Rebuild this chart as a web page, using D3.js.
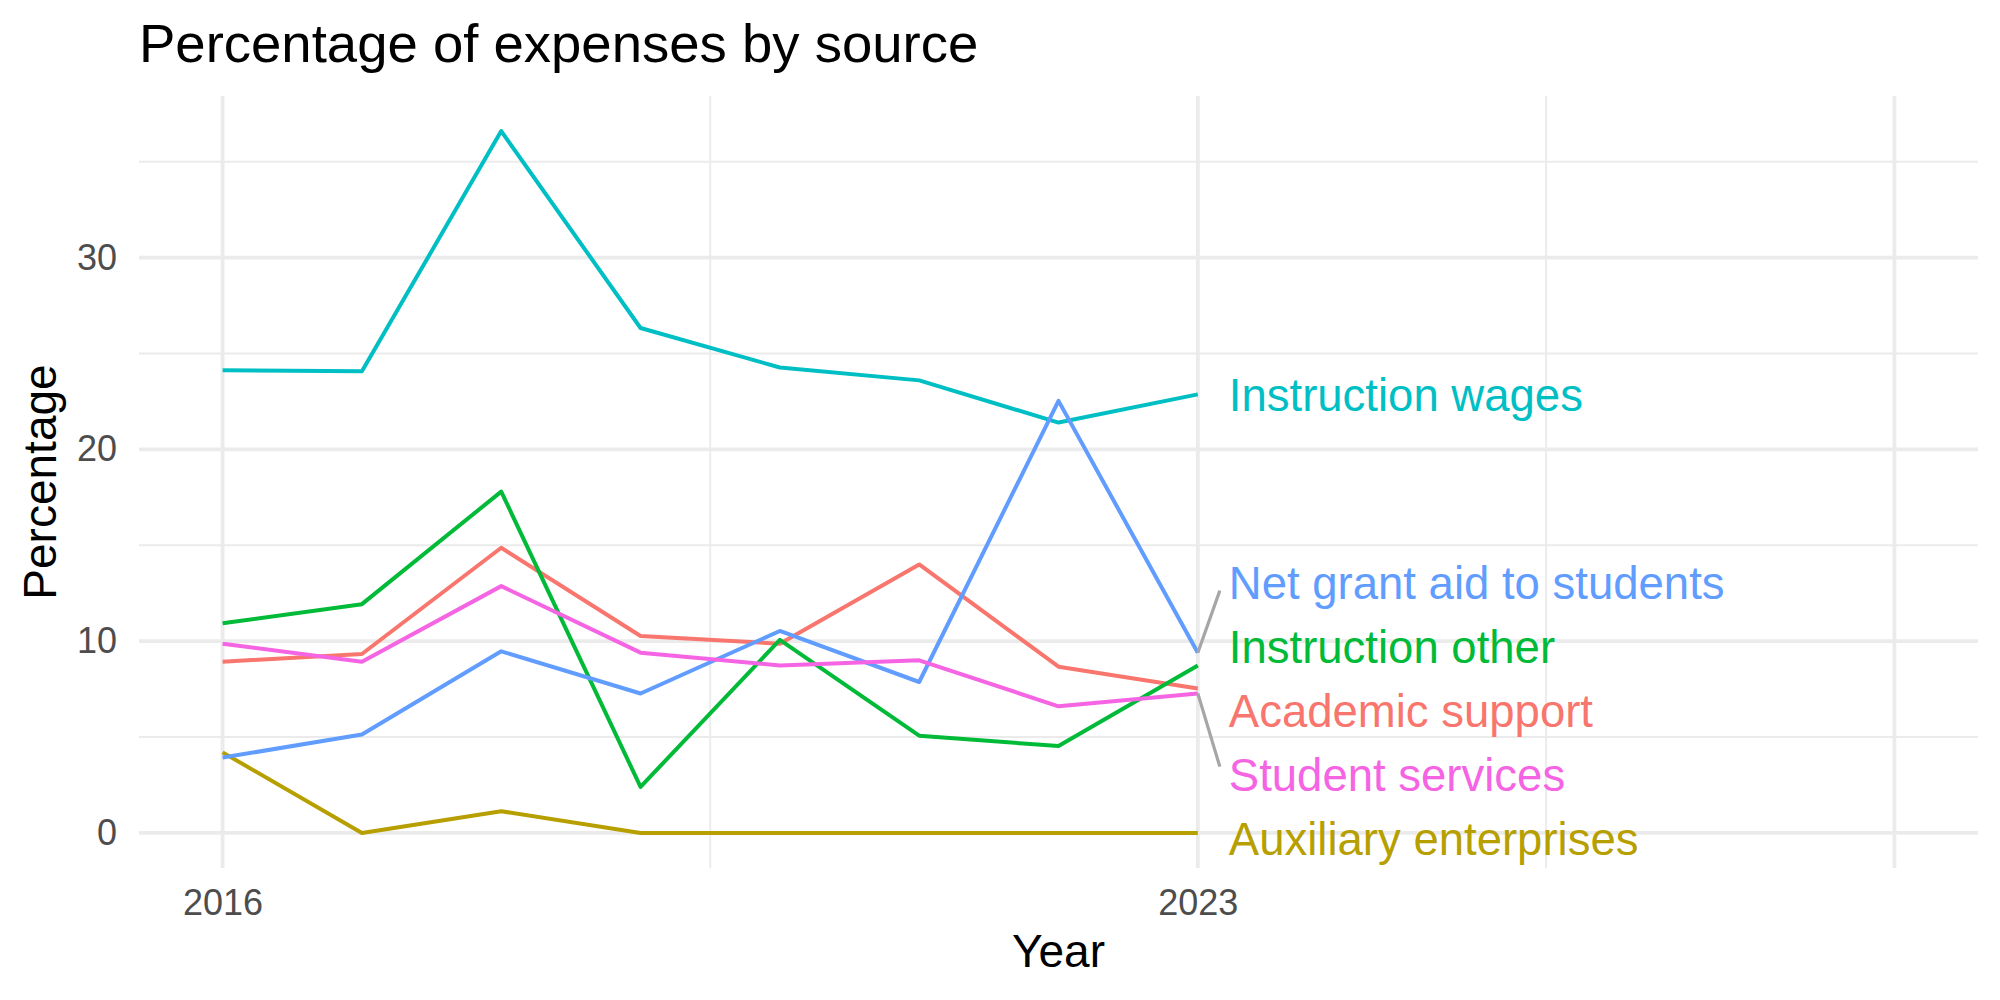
<!DOCTYPE html>
<html>
<head>
<meta charset="utf-8">
<script src="https://cdn.jsdelivr.net/npm/d3@7"></script>
<style>
  body { margin: 0; background: #fff; }
  text { font-family: "Liberation Sans", Arial, Helvetica, sans-serif; }
</style>
</head>
<body>
<div id="chart"></div>
<script>
// Data
const years = [2016, 2017, 2018, 2019, 2020, 2021, 2022, 2023];
const seriesNames = ["Academic support", "Auxiliary enterprises", "Instruction other",
                     "Instruction wages", "Net grant aid to students", "Student services"];
const academicSupport = [8.93, 9.33, 14.87, 10.27, 9.87, 14.0, 8.67, 7.53];
const auxiliaryEnterprises = [4.2, 0, 1.13, 0, 0, 0, 0, 0];
const instructionOther = [10.93, 11.93, 17.8, 2.4, 10.07, 5.07, 4.53, 8.73];
const instructionWages = [24.13, 24.07, 36.6, 26.33, 24.27, 23.6, 21.4, 22.87];
const netGrantAid = [3.93, 5.13, 9.47, 7.27, 10.53, 7.87, 22.53, 9.4];
const studentServices = [9.87, 8.93, 12.87, 9.4, 8.73, 9.0, 6.6, 7.27];
const seriesColors = ["#F8766D", "#B79F00", "#00BA38", "#00BFC4", "#619CFF", "#F564E3"];

const xLimits = [2016, 2028];
const xBreaks = [2016, 2023, 2028];
const xLabels = ["2016", "2023", ""];
const xMinor = [2019.5, 2025.5];
const yBreaks = [0, 10, 20, 30];
const yMinor = [5, 15, 25, 35];

const series = [academicSupport, auxiliaryEnterprises, instructionOther,
                instructionWages, netGrantAid, studentServices].map((vals, i) => ({
  name: seriesNames[i],
  color: seriesColors[i],
  values: vals.map((v, j) => ({ year: years[j], value: v }))
}));

const W = 2000, H = 1000;
const panel = { left: 139, right: 1978, top: 96, bottom: 868 };

const svg = d3.select("#chart").append("svg")
  .attr("width", W).attr("height", H);

// Scales with ggplot-like 5% expansion
const xPad = (xLimits[1] - xLimits[0]) * 0.05;
const x = d3.scaleLinear()
  .domain([xLimits[0] - xPad, xLimits[1] + xPad])
  .range([panel.left, panel.right]);

const yMax = d3.max(series, s => d3.max(s.values, d => d.value));
const yPad = yMax * 0.05;
const y = d3.scaleLinear()
  .domain([0 - yPad, yMax + yPad])
  .range([panel.bottom, panel.top]);

// Grid
const grid = svg.append("g");
grid.selectAll(".ymin").data(yMinor).join("line")
  .attr("x1", panel.left).attr("x2", panel.right)
  .attr("y1", d => y(d)).attr("y2", d => y(d))
  .attr("stroke", "#EBEBEB").attr("stroke-width", 1.9);
grid.selectAll(".xmin").data(xMinor).join("line")
  .attr("y1", panel.top).attr("y2", panel.bottom)
  .attr("x1", d => x(d)).attr("x2", d => x(d))
  .attr("stroke", "#EBEBEB").attr("stroke-width", 1.9);
grid.selectAll(".ymaj").data(yBreaks).join("line")
  .attr("x1", panel.left).attr("x2", panel.right)
  .attr("y1", d => y(d)).attr("y2", d => y(d))
  .attr("stroke", "#EBEBEB").attr("stroke-width", 3.8);
grid.selectAll(".xmaj").data(xBreaks).join("line")
  .attr("y1", panel.top).attr("y2", panel.bottom)
  .attr("x1", d => x(d)).attr("x2", d => x(d))
  .attr("stroke", "#EBEBEB").attr("stroke-width", 3.8);

// Axes (text only, like theme_minimal)
const yAxis = svg.append("g")
  .attr("transform", `translate(${panel.left},0)`)
  .call(d3.axisLeft(y).tickValues(yBreaks).tickSize(0).tickPadding(22));
yAxis.select(".domain").remove();
yAxis.selectAll("text").attr("font-size", 36).attr("fill", "#4D4D4D")
  .style("font-family", "'Liberation Sans', Arial, sans-serif");

const xAxis = svg.append("g")
  .attr("transform", `translate(0,${panel.bottom})`)
  .call(d3.axisBottom(x).tickValues(xBreaks).tickSize(0).tickPadding(21)
    .tickFormat((d, i) => xLabels[i]));
xAxis.select(".domain").remove();
xAxis.selectAll("text").attr("font-size", 36).attr("fill", "#4D4D4D")
  .style("font-family", "'Liberation Sans', Arial, sans-serif");

// Lines
const line = d3.line().x(d => x(d.year)).y(d => y(d.value));
svg.append("g").selectAll("path").data(series).join("path")
  .attr("d", s => line(s.values))
  .attr("fill", "none")
  .attr("stroke", s => s.color)
  .attr("stroke-width", 4)
  .attr("stroke-linejoin", "round");

// End labels with a simple 1-D repel
const gap = 64;
const lastYear = years[years.length - 1];
const labels = series.map(s => {
  const v = s.values[s.values.length - 1].value;
  return { name: s.name, color: s.color, py: y(v), target: y(v) };
}).sort((a, b) => a.target - b.target);

function place(c) {
  const mean = d3.mean(c, l => l.target);
  const shift = c.length > 1 ? 4 : 0;
  c.forEach((l, i) => { l.ly = mean + shift + (i - (c.length - 1) / 2) * gap; });
}
let clusters = labels.map(l => [l]);
let merged = true;
while (merged) {
  merged = false;
  clusters.forEach(place);
  for (let i = 0; i < clusters.length - 1; i++) {
    const a = clusters[i], b = clusters[i + 1];
    if (b[0].ly - a[a.length - 1].ly < gap) {
      clusters.splice(i, 2, a.concat(b));
      merged = true;
      break;
    }
  }
}
clusters.forEach(place);

const labelX = x(lastYear) + 31;
const lab = svg.append("g");
lab.selectAll("line").data(labels.filter(l => Math.abs(l.ly - l.py) > 40)).join("line")
  .attr("x1", x(lastYear)).attr("y1", l => l.py)
  .attr("x2", labelX - 9).attr("y2", l => l.ly + (l.py > l.ly ? 8 : -8))
  .attr("stroke", "#A6A6A6").attr("stroke-width", 3.2);
lab.selectAll("text").data(labels).join("text")
  .attr("x", labelX).attr("y", l => l.ly).attr("dy", "0.36em")
  .attr("font-size", 45.5).attr("fill", l => l.color)
  .text(l => l.name);

// Titles
svg.append("text").attr("x", 139).attr("y", 62)
  .attr("font-size", 54.5).attr("fill", "#000")
  .text("Percentage of expenses by source");
svg.append("text").attr("x", (panel.left + panel.right) / 2).attr("y", 967)
  .attr("text-anchor", "middle").attr("font-size", 46).attr("fill", "#000")
  .text("Year");
svg.append("text")
  .attr("transform", `translate(56,${(panel.top + panel.bottom) / 2}) rotate(-90)`)
  .attr("text-anchor", "middle").attr("font-size", 46).attr("fill", "#000")
  .text("Percentage");
</script>
</body>
</html>
